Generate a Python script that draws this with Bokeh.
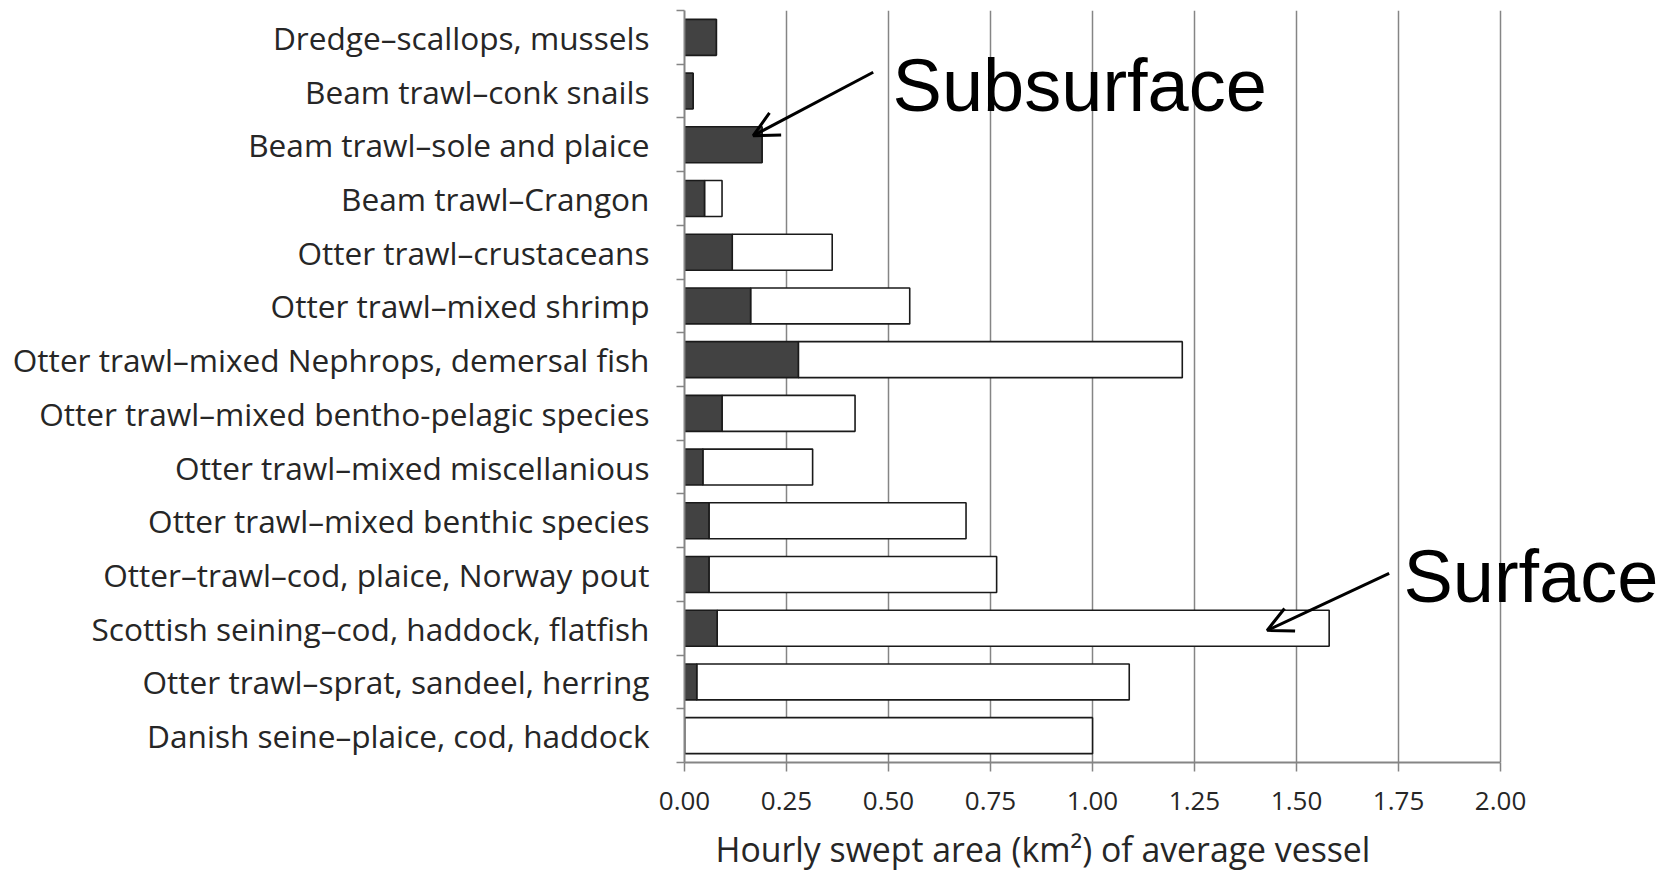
from bokeh.plotting import figure
from bokeh.models import Range1d, FixedTicker, Label, Arrow, OpenHead, ColumnDataSource, Title
from bokeh.embed import file_html
from bokeh.resources import INLINE

# ---- data (top to bottom, as shown) ----
categories = [
    "Dredge\u2013scallops, mussels",
    "Beam trawl\u2013conk snails",
    "Beam trawl\u2013sole and plaice",
    "Beam trawl\u2013Crangon",
    "Otter trawl\u2013crustaceans",
    "Otter trawl\u2013mixed shrimp",
    "Otter trawl\u2013mixed Nephrops, demersal fish",
    "Otter trawl\u2013mixed bentho-pelagic species",
    "Otter trawl\u2013mixed miscellanious",
    "Otter trawl\u2013mixed benthic species",
    "Otter\u2013trawl\u2013cod, plaice, Norway pout",
    "Scottish seining\u2013cod, haddock, flatfish",
    "Otter trawl\u2013sprat, sandeel, herring",
    "Danish seine\u2013plaice, cod, haddock",
]
subsurface = [0.078, 0.021, 0.19, 0.049, 0.117, 0.162, 0.279, 0.092, 0.045, 0.06, 0.06, 0.08, 0.03, 0.0]
total_area = [0.078, 0.021, 0.19, 0.092, 0.362, 0.552, 1.22, 0.418, 0.314, 0.69, 0.765, 1.58, 1.09, 1.0]
x_ticks = [0.0, 0.25, 0.5, 0.75, 1.0, 1.25, 1.5, 1.75, 2.0]
x_tick_labels = ["0.00", "0.25", "0.50", "0.75", "1.00", "1.25", "1.50", "1.75", "2.00"]

n = len(categories)
pos = [i + 0.5 for i in range(n)]
src = ColumnDataSource(dict(y=pos, sub=subsurface, tot=total_area, cat=categories))

FONT = "Open Sans"
TXT = "#262626"

p = figure(width=1671, height=882, output_backend="svg", toolbar_location=None,
           x_range=Range1d(0, 2.419), y_range=Range1d(n, 0),
           min_border_left=684, min_border_top=10, min_border_right=0, min_border_bottom=120)
p.outline_line_color = None
p.background_fill_color = "white"

# bars
p.hbar(y="y", left="sub", right="tot", height=0.67, source=src,
       fill_color="white", line_color="#1a1a1a", line_width=1.6)
p.hbar(y="y", left=0, right="sub", height=0.67, source=src,
       fill_color="#424242", line_color="#1a1a1a", line_width=1.6)

# grid
p.ygrid.grid_line_color = None
p.xgrid.ticker = FixedTicker(ticks=x_ticks)
p.xgrid.grid_line_color = "#858585"
p.xgrid.grid_line_width = 1.5

# x axis
xa = p.xaxis[0]
xa.bounds = (0, 2.0)
xa.ticker = FixedTicker(ticks=x_ticks)
xa.major_label_overrides = {t: l for t, l in zip(x_ticks, x_tick_labels)}
xa.axis_line_color = "#858585"
xa.axis_line_width = 2
xa.major_tick_line_color = "#858585"
xa.major_tick_line_width = 1.5
xa.major_tick_out = 9
xa.major_tick_in = 0
xa.minor_tick_line_color = None
xa.major_label_standoff = 20
xa.major_label_text_font = FONT
xa.major_label_text_font_size = "26px"
xa.major_label_text_color = TXT

p.add_layout(Title(text="Hourly swept area (km\u00b2) of average vessel", align="left",
                   offset=31, standoff=22, text_font=FONT, text_font_size="33.8px",
                   text_font_style="normal", text_color=TXT), "below")

# y axis
ya = p.yaxis[0]
ya.ticker = FixedTicker(ticks=pos, minor_ticks=list(range(n + 1)))
ya.major_label_overrides = {t: c for t, c in zip(pos, categories)}
ya.axis_line_color = "#858585"
ya.axis_line_width = 2
ya.major_tick_line_color = None
ya.major_tick_out = 8
ya.major_tick_in = 0
ya.minor_tick_line_color = "#858585"
ya.minor_tick_line_width = 1.5
ya.minor_tick_out = 8
ya.minor_tick_in = 0
ya.major_label_standoff = 27
ya.major_label_text_font = FONT
ya.major_label_text_font_size = "31.6px"
ya.major_label_text_color = TXT

# annotations
p.add_layout(Label(x=0.51, y=1.39, text="Subsurface", text_font="Liberation Sans",
                   text_font_size="74px", text_baseline="middle", text_color="black"))
p.add_layout(Label(x=1.762, y=10.54, text="Surface", text_font="Liberation Sans",
                   text_font_size="74px", text_baseline="middle", text_color="black"))
p.add_layout(Arrow(x_start=0.4625, y_start=1.15, x_end=0.1684, y_end=2.33,
                   line_width=3, line_color="black",
                   end=OpenHead(size=25, line_width=3, line_color="black")))
p.add_layout(Arrow(x_start=1.727, y_start=10.48, x_end=1.428, y_end=11.54,
                   line_width=3, line_color="black",
                   end=OpenHead(size=25, line_width=3, line_color="black")))

open("out.html", "w").write(file_html(p, INLINE))
